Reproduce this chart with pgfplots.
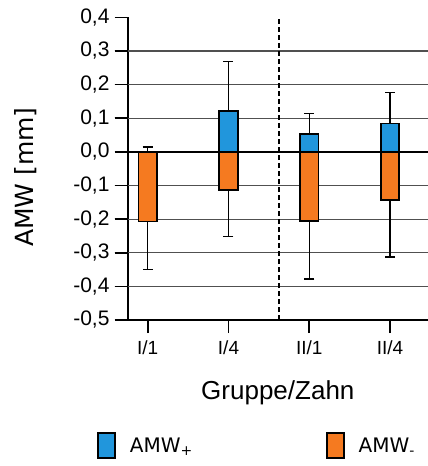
\documentclass[border=0pt]{standalone}
\usepackage{pgfplots}
\pgfplotsset{compat=1.18}
\usepackage{fontspec}
\setmainfont{Liberation Sans}
\newfontfamily\dejavu{DejaVu Sans}
\definecolor{barblue}{RGB}{33,150,220}
\definecolor{barorange}{RGB}{245,122,32}
\definecolor{gridgray}{RGB}{80,80,80}
\begin{document}
\begin{tikzpicture}
\begin{axis}[
  scale only axis, width=300.3bp, height=302.7bp,
  xmin=-0.248, xmax=3.47, ymin=-0.5, ymax=0.4,
  axis x line*=bottom, axis y line*=left,
  axis line style={line width=1.8bp, black},
  xtick={0,1,2,3}, xticklabels={I/1,I/4,II/1,II/4},
  ytick={-0.5,-0.4,-0.3,-0.2,-0.1,0,0.1,0.2,0.3,0.4},
  yticklabels={{-0,5},{-0,4},{-0,3},{-0,2},{-0,1},{0,0},{0,1},{0,2},{0,3},{0,4}},
  tick align=outside, major tick length=13bp,
  tick style={line width=1.6bp, black},
  extra y ticks={-0.4,-0.3,-0.2,-0.1,0.1,0.2,0.3},
  extra y tick labels={},
  extra y tick style={ymajorgrids=true},
  major grid style={line width=1.2bp, color=gridgray},
  yticklabel style={font=\fontsize{21bp}{25bp}\selectfont, inner sep=0pt, xshift=-5bp},
  xticklabel style={font=\fontsize{19bp}{23bp}\selectfont, inner sep=0pt, yshift=-8bp},
  xlabel={Gruppe/Zahn},
  xlabel style={font=\fontsize{26bp}{30bp}\selectfont, at={(axis description cs:0.5,-0.261)}, anchor=base},
  ylabel={AMW [mm]},
  ylabel style={font=\dejavu\fontsize{25bp}{30bp}\selectfont, at={(axis description cs:-0.3153,0.4724)}, anchor=base},
  legend columns=2,
  legend style={at={(axis description cs:-0.102,-0.4146)}, anchor=west, draw=none, fill=none,
    font=\dejavu\fontsize{20bp}{24bp}\selectfont, inner sep=0pt,
    nodes={inner sep=0pt}, column sep=14bp, /tikz/column 2/.style={column sep=133bp}},
  legend cell align=left,
]
% zero line
\addplot[black, line width=1.8bp, forget plot] coordinates {(-0.248,0) (3.47,0)};
% dashed separator
\addplot[black, line width=2bp, dash pattern=on 5bp off 3bp, forget plot] coordinates {(1.62,-0.5) (1.62,0.4)};
% AMW+
\addplot[ybar, bar width=0.23, bar shift=0pt, fill=barblue, draw=black, line width=1.7bp,
  legend image code/.code={\draw[fill=barblue, draw=black, line width=1.7bp, solid] (0bp,-12.5bp) rectangle (17bp,12.5bp);},
  error bars/.cd, y dir=plus, y explicit,
  error bar style={line width=1.5bp, black, solid},
  error mark options={rotate=90, line width=1.5bp, mark size=5bp, black, solid}]
  coordinates {(0,0) +- (0,0.015) (1,0.121) +- (0,0.147) (2,0.054) +- (0,0.060) (3,0.084) +- (0,0.092)};
% AMW-
\addplot[ybar, bar width=0.23, bar shift=0pt, fill=barorange, draw=black, line width=1.7bp,
  legend image code/.code={\draw[fill=barorange, draw=black, line width=1.7bp, solid] (0bp,-12.5bp) rectangle (17bp,12.5bp);},
  error bars/.cd, y dir=minus, y explicit,
  error bar style={line width=1.5bp, black, solid},
  error mark options={rotate=90, line width=1.5bp, mark size=5bp, black, solid}]
  coordinates {(0,-0.207) +- (0,0.143) (1,-0.114) +- (0,0.137) (2,-0.205) +- (0,0.173) (3,-0.144) +- (0,0.168)};
\legend{AMW\textsubscript{+}, AMW\textsubscript{-}}
\end{axis}
\pgfresetboundingbox
\path[use as bounding box] (current axis.south west) ++(-127.7bp,-146bp) rectangle ++(428bp,466bp);
\end{tikzpicture}
\end{document}
